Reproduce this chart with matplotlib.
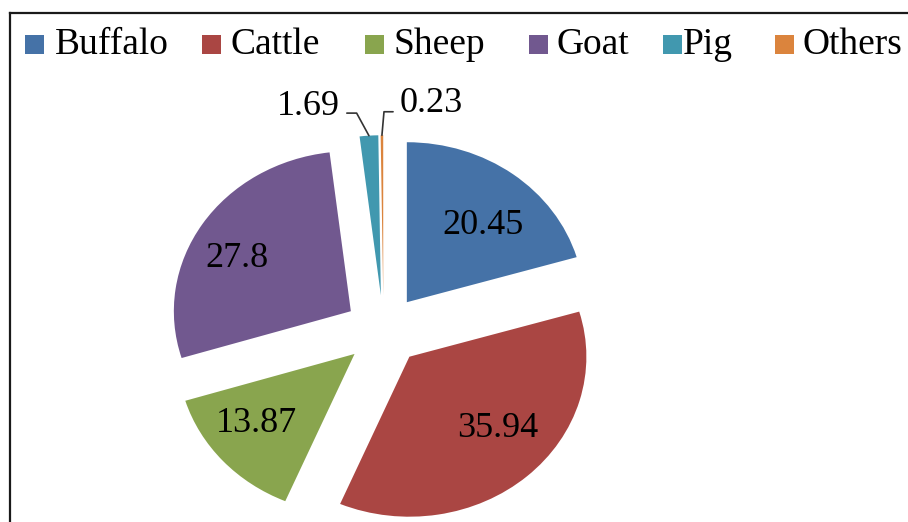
import numpy as np
import matplotlib
matplotlib.use("Agg")
import matplotlib.pyplot as plt
from matplotlib.patches import Rectangle
from matplotlib.lines import Line2D

# ---- data ----
categories = ["Buffalo", "Cattle", "Sheep", "Goat", "Pig", "Others"]
values = [20.45, 35.94, 13.87, 27.8, 1.69, 0.23]
value_labels = ["20.45", "35.94", "13.87", "27.8", "1.69", "0.23"]
colors = ["#4572A7", "#AA4643", "#89A54E", "#71588F", "#4198AF", "#DB843D"]

# ---- layout ----
W, H = 908, 522
plt.rcParams['font.family'] = ['Liberation Serif', 'DejaVu Serif']
fig = plt.figure(figsize=(W / 100, H / 100), dpi=100)
fig.patch.set_facecolor("white")

cx_px, cy_px = 383.5, 330.4      # pie centre (pixels from top-left)
sx, sy = 177.0, 160.0            # pixels per unit radius (x, y)
xl, yl = (-1.5, 1.5), (-1.3, 1.6)
ax = fig.add_axes([(cx_px + xl[0] * sx) / W,
                   (H - cy_px + yl[0] * sy) / H,
                   (xl[1] - xl[0]) * sx / W,
                   (yl[1] - yl[0]) * sy / H])

wedges, _ = ax.pie(values, explode=[0.22] * len(values), startangle=90,
                   counterclock=False, colors=colors,
                   wedgeprops=dict(linewidth=0))
ax.set_aspect("auto")
ax.set_xlim(*xl)
ax.set_ylim(*yl)
ax.axis("off")

LABEL_FS = 26
# inside labels: (radius, angle shift) relative to each wedge's centre
inside = {0: (0.661, -3.8), 1: (0.658, 7.9), 2: (0.693, -5.4), 3: (0.732, 4.4)}
for i, (r, dang) in inside.items():
    w = wedges[i]
    ang = np.deg2rad((w.theta1 + w.theta2) / 2 + dang)
    x = w.center[0] + r * np.cos(ang)
    y = w.center[1] + r * np.sin(ang)
    ax.annotate(value_labels[i], xy=(x, y), xytext=(0, -8.6),
                textcoords="offset points", ha="center", va="baseline",
                fontsize=LABEL_FS, color="black")

# outside labels with leader lines
outside = {4: ((-0.164, 0.129), "right", (1, 0.3), 118.6),
           5: ((0.102, 0.145), "left", (0, 0.25), 85)}
for i, ((dx, dy), ha, rel, angB) in outside.items():
    w = wedges[i]
    ang = np.deg2rad((w.theta1 + w.theta2) / 2)
    tip = (w.center[0] + np.cos(ang), w.center[1] + np.sin(ang))
    ax.annotate(value_labels[i], xy=tip, xytext=(tip[0] + dx, tip[1] + dy),
                ha=ha, va="baseline", fontsize=LABEL_FS, color="black",
                arrowprops=dict(arrowstyle="-", color="#333333", lw=1.2,
                                connectionstyle=f"angle,angleA=0,angleB={angB},rad=0",
                                relpos=rel, patchA=None, shrinkA=5, shrinkB=0))

# legend (manual, one row)
sq_x = [25, 202, 365, 529, 663, 775]
tx_x = [55, 230, 393, 557, 683, 803]
sq_top, sq_size, base_y = 35, 18.5, 53.5
for c, lab, xs, xt in zip(colors, categories, sq_x, tx_x):
    fig.patches.append(Rectangle((xs / W, 1 - (sq_top + sq_size) / H),
                                 sq_size / W, sq_size / H,
                                 transform=fig.transFigure,
                                 facecolor=c, edgecolor="none"))
    fig.text(xt / W, 1 - base_y / H, lab, fontsize=27, ha="left",
             va="baseline", color="black")

# outer frame (only top and left visible)
fx, fy = 9.5, 12.5
fig.add_artist(Line2D([fx / W, 1.0], [1 - fy / H, 1 - fy / H],
                      transform=fig.transFigure, color="#1a1a1a", lw=1.6))
fig.add_artist(Line2D([fx / W, fx / W], [1 - fy / H, 0.0],
                      transform=fig.transFigure, color="#1a1a1a", lw=1.6))

fig.savefig("out.png", dpi=100, facecolor="white")
